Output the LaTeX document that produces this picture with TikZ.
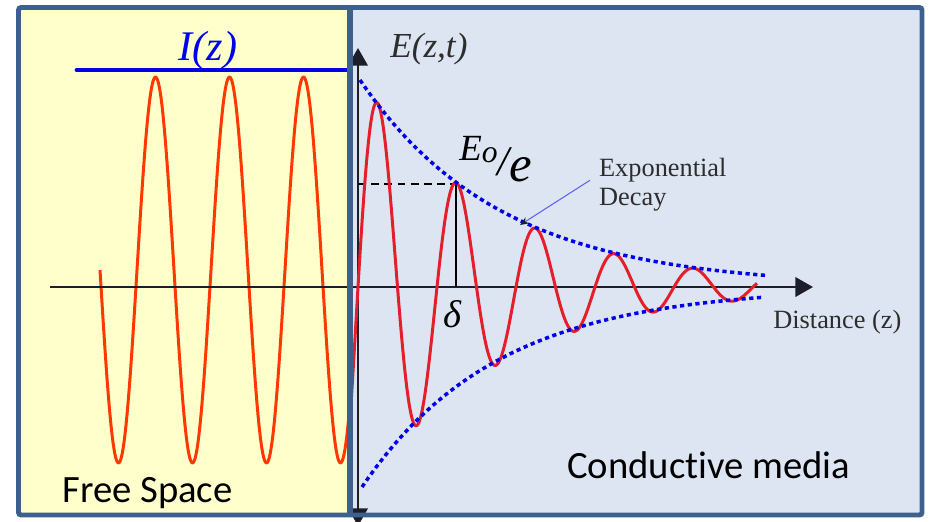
\documentclass[tikz,border=0pt]{standalone}
\usepackage{fontspec}
\setmainfont{Liberation Serif}
\newfontfamily\calibrifont[Ligatures={NoCommon}]{Carlito}
\usetikzlibrary{arrows.meta,calc,positioning}
\definecolor{fsYellow}{RGB}{255,255,204}
\definecolor{cmBlue}{RGB}{222,229,242}
\definecolor{frameBlue}{RGB}{62,96,140}
\definecolor{waveOrange}{RGB}{255,56,0}
\definecolor{waveRed}{RGB}{228,30,42}
\definecolor{envBlue}{RGB}{0,0,235}
\definecolor{pointerBlue}{RGB}{90,100,240}
\definecolor{labelGrey}{RGB}{45,45,45}
\definecolor{axisInk}{RGB}{28,30,42}
\tikzset{
  wave/.style={line width=1.7pt,line join=round},
  envelope/.style={envBlue,line width=2pt,dash pattern=on 2.4pt off 2pt},
  axisline/.style={axisInk,line width=1.4pt},
  axistip/.style={-{Triangle[length=10pt,width=11pt]}},
  seriflbl/.style={labelGrey,inner sep=0pt,font=\fontsize{15}{16}\selectfont},
  sanslbl/.style={black,inner sep=0pt,font=\calibrifont\fontsize{22}{22}\selectfont},
}

\begin{document}
\begin{tikzpicture}[x=0.02cm,y=-0.02cm]
  \useasboundingbox (0,0) rectangle (929,521);
  % the two media
  \fill[fsYellow] (18,8) rectangle (350,515);
  \fill[cmBlue] (350,8) rectangle (922,515);

  % free space wave and its level
  \draw[wave,waveOrange] plot[domain=100:349,samples=250] (\x,{270+193*sin((\x-100)/74*360)});
  \coordinate (ileft) at (77,70);
  \coordinate (iright) at (348,70);
  \draw[envBlue,line width=2.8pt,line cap=round] (ileft) -- (iright);
  \node[anchor=base,inner sep=0pt,envBlue,font=\fontsize{24}{24}\selectfont\itshape] (ilbl) at (208,60) {I(z)};

  % axes
  \coordinate (origin) at (358,287);
  \coordinate (zstart) at (50,287);
  \coordinate (zend) at (813,287);
  \coordinate (etop) at (358,48);
  \coordinate (ebot) at (358,526);
  \draw[axisline,axistip] (zstart) -- (zend);
  \draw[axisline,{Triangle[length=10pt,width=11pt]}-{Triangle[length=10pt,width=11pt]}] (ebot) -- (etop);

  % skin depth marker
  \coordinate (epeak) at (456,184);
  \coordinate (dfoot) at (456,287);
  \draw[black,line width=1.1pt,dash pattern=on 4.5pt off 3pt] (origin |- epeak) -- (epeak);
  \draw[black,line width=1.1pt] (epeak) -- (dfoot);

  % damped wave and envelopes
  \draw[wave,waveRed] plot[domain=351:757,samples=400] (\x,{287-212*exp(-0.00722*(\x-358))*sin((\x-358)/79*360)});
  \draw[envelope] plot[domain=360:766,samples=120] (\x,{287-207*exp(-0.0071*(\x-360))});
  \draw[envelope] plot[domain=362:764,samples=120] (\x,{287+200*exp(-0.0074*(\x-362))});

  % frame
  \draw[frameBlue,line width=2.8pt,rounded corners=1.5pt] (18.5,7.5) rectangle (922,515);
  \draw[frameBlue,line width=3.4pt] (350,7.5) -- (350,515);

  % labels
  \node[anchor=base west,inner sep=0pt,labelGrey,font=\fontsize{20}{20}\selectfont\itshape] (elbl) at (390,57) {E(z,t)};
  \node[anchor=base west,inner sep=0pt,black,font=\itshape] (eolbl) at (459,160)
    {\fontsize{21}{21}\selectfont E\raisebox{-1.7pt}{\fontsize{18}{18}\selectfont o}\raisebox{-9pt}{\fontsize{24}{24}\selectfont /}\raisebox{-12.5pt}{\fontsize{29}{29}\selectfont e}};
  \node[anchor=base,inner sep=0pt,black,font=\fontsize{22}{22}\selectfont\itshape] (dlbl) at (452,327) {δ};
  \node[seriflbl,anchor=base west,align=left,inner xsep=5pt] (declbl) at (590,205) {Exponential\\Decay};
  \coordinate (dectip) at (520,225);
  \draw[pointerBlue,line width=0.6pt,-{Stealth[length=5pt,width=4pt,color=axisInk]}] ([yshift=2.5pt]declbl.west) -- (dectip);
  \node[seriflbl,anchor=base west] (zlbl) at (773,328) {Distance (z)};
  \node[sanslbl,anchor=base west] (cmlbl) at (567,478) {Conductive media};
  \node[sanslbl,anchor=base west] (fslbl) at (62,502) {Free Space};
\end{tikzpicture}
\end{document}
